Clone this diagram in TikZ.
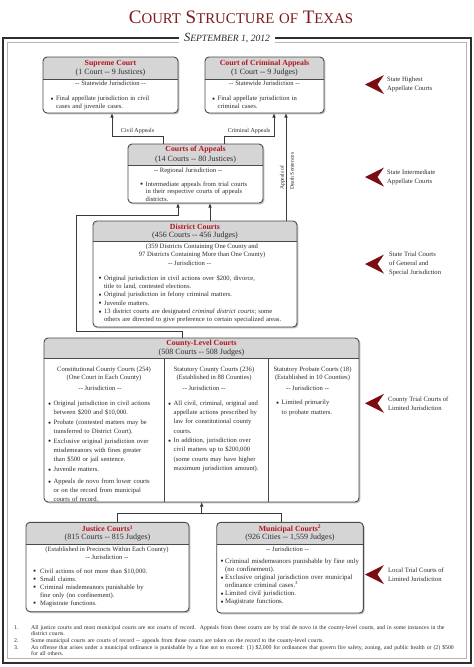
\documentclass[tikz,border=0pt]{standalone}
\usepackage{fontspec}
\setmainfont{Liberation Serif}
\usetikzlibrary{arrows.meta,calc}

\definecolor{maroon}{HTML}{7E1A1E}
\definecolor{boxred}{HTML}{B3141E}
\definecolor{chevc}{HTML}{7A0C12}
\definecolor{edgec}{HTML}{4A4A4A}
\definecolor{hdrc}{HTML}{D5D5D5}
\definecolor{txtc}{HTML}{2B2B2B}
\definecolor{shadowc}{HTML}{BDBDBD}
\definecolor{framec}{HTML}{2E2E2E}
\definecolor{framein}{HTML}{B5B5B5}
\definecolor{linec}{HTML}{3A3A3A}

\newlength\bulind \setlength\bulind{5.5pt}
\newcommand\fs[2]{\fontsize{#1}{#2}\selectfont}
\newcommand\isep[1]{\setlength\parskip{#1}}
\newcommand\bulsym{\raisebox{0.1ex}{\scalebox{0.75}{$\bullet$}}}
\newcommand\bitem[1]{\par\noindent\hangindent=\bulind\hangafter=1\makebox[\bulind][l]{\bulsym}#1\par}
\newcommand\fitem[2]{\par\noindent\hangindent=17pt\hangafter=1\makebox[17pt][l]{#1}#2\par}
\newcommand\tsc[1]{{\fs{14.8}{16}#1}}
\newcommand\dsc[1]{{\fs{9.6}{11}#1}}

\tikzset{
  conn/.style={draw=linec, line width=0.8pt},
  arr/.style={-{Latex[length=4.5pt,width=3.6pt]}},
  boxnode/.style={fill=white, rounded corners=4pt, inner sep=0pt, outer sep=0pt, anchor=north west},
  boxedge/.style={draw=edgec, line width=0.9pt},
  hdrtitle/.style={font=\fs{7.8}{9}\bfseries, text=boxred, inner sep=0pt},
  hdrsub/.style={font=\fs{8}{9}, text=txtc, inner sep=0pt},
  ctr/.style={font=\fs{6.6}{8}, text=txtc, inner sep=0pt, anchor=north, align=center},
  body/.style={inner sep=0pt, anchor=north west, text width=#1, align=left, text=txtc},
  side/.style={inner sep=0pt, anchor=north west, align=left, text=txtc, font=\fs{6.6}{9}},
  clabel/.style={inner sep=0pt, text=txtc, font=\fs{6}{6.5}},
}

% name, x, y, w, h, header height, title, subtitle
\newcommand\CourtBox[8]{%
  \fill[shadowc, rounded corners=4pt] (#2+1.4,#3+1.4) rectangle (#2+#4+1.4,#3+#5+1.4);
  \node[boxnode, minimum width=#4pt, minimum height=#5pt] (#1) at (#2,#3) {};
  \begin{scope}
    \clip[rounded corners=4pt] (#1.north west) rectangle (#1.south east);
    \fill[hdrc] (#1.north west) rectangle ($(#1.north east)+(0,#6)$);
  \end{scope}
  \draw[boxedge] ($(#1.north west)+(0,#6)$) -- ($(#1.north east)+(0,#6)$);
  \draw[boxedge, rounded corners=4pt] (#1.north west) rectangle (#1.south east);
  \node[hdrtitle] (#1-t) at ($(#1.north)+(0,#6/2-4.6)$) {#7};
  \node[hdrsub] (#1-s) at ($(#1.north)+(0,#6/2+4.6)$) {#8};
}

\newcommand\Chev[1]{\fill[chevc] (365,#1) -- (384,#1-9.5) -- (377.5,#1) -- (384,#1+9.5) -- cycle;}

\begin{document}
\begin{tikzpicture}[x=1pt,y=-1pt]
\useasboundingbox (0,0) rectangle (474,667);
\fill[white] (0,0) rectangle (474,667);

% frame
\draw[framein, line width=0.7pt] (7.5,42.5) rectangle (466.5,658.5);
\draw[framec, line width=1.6pt] (3,38) rectangle (471,663);

% titles
\node[inner sep=0pt, text=maroon, font=\fs{19}{20}] (title) at (241,17) {C\tsc{OURT} S\tsc{TRUCTURE} \tsc{OF} T\tsc{EXAS}};
\node[fill=white, inner xsep=5pt, inner ysep=2pt, text=txtc, font=\fs{12.5}{13}\itshape] (date) at (227,38) {S\dsc{EPTEMBER 1, 2012}};

% ---------- boxes ----------
\CourtBox{sc}{43}{57}{135}{56}{22}{Supreme Court}{(1 Court -{}- 9 Justices)}
\CourtBox{cca}{205}{57}{119}{56}{22}{Court of Criminal Appeals}{(1 Court -{}- 9 Judges)}
\CourtBox{coa}{128}{144}{135}{59}{21}{Courts of Appeals}{(14 Courts -{}- 80 Justices)}
\CourtBox{dc}{93}{221}{204}{106}{20}{District Courts}{(456 Courts -{}- 456 Judges)}
\CourtBox{clc}{44}{338}{315}{164}{20}{County-Level Courts}{(508 Courts -{}- 508 Judges)}
\CourtBox{jc}{26}{522.3}{163}{89.4}{22}{Justice Courts\textsuperscript{1}}{(815 Courts -{}- 815 Judges)}
\CourtBox{mc}{216.7}{522.3}{146.6}{90.7}{22}{Municipal Courts\textsuperscript{2}}{(926 Cities -{}- 1,559 Judges)}

% county-level column dividers
\coordinate (dv1) at (164,358);
\coordinate (dv2) at (268,358);
\draw[boxedge] (dv1) -- (dv1 |- clc.south);
\draw[boxedge] (dv2) -- (dv2 |- clc.south);

% ---------- box texts ----------
\node[ctr] (sc-j) at (110.5,81.2) {-{}- Statewide Jurisdiction -{}-};
\node[body=125pt, font=\fs{6.6}{8}] (sc-b) at (50.5,92.2) {\bitem{Final appellate jurisdiction in civil\newline cases and juvenile cases.}};

\node[ctr] (cca-j) at (264.5,81.2) {-{}- Statewide Jurisdiction -{}-};
\node[body=105pt, font=\fs{6.6}{8}] (cca-b) at (212,92.2) {\bitem{Final appellate jurisdiction in\newline criminal cases.}};

\node[ctr] (coa-j) at (188,168.2) {-{}- Regional Jurisdiction -{}-};
\node[body=120pt, font=\fs{6.6}{7.7}] (coa-b) at (140,178.2) {\bitem{Intermediate appeals from trial courts\newline in their respective courts of appeals\newline districts.}};

\node[ctr, font=\fs{6.6}{7.2}] (dc-n) at (202,244.2) {(359 Districts Containing One County and\\97 Districts Containing More than One County)};
\node[ctr] (dc-j) at (189.5,260.9) {-{}- Jurisdiction -{}-};
\node[body=195pt, font=\fs{6.6}{8}] (dc-b) at (98.3,271.2) {\isep{0.6pt}%
  \bitem{Original jurisdiction in civil actions over \$200, divorce,\newline title to land, contested elections.}
  \bitem{Original jurisdiction in felony criminal matters.}
  \bitem{Juvenile matters.}
  \bitem{13 district courts are designated \textit{criminal district courts}; some\newline others are directed to give preference to certain specialized areas.}};

% county-level columns
\node[ctr] (c1-h) at (104,366.5) {Constitutional County Courts (254)\\(One Court in Each County)};
\node[ctr] (c1-j) at (100,385.5) {-{}- Jurisdiction -{}-};
\node[body=113pt, font=\fs{6.6}{9.2}] (c1-b) at (48,395.5) {\isep{0.5pt}%
  \bitem{Original jurisdiction in civil actions\newline between \$200 and \$10,000.}
  \bitem{Probate (contested matters may be\newline transferred to District Court).}
  \bitem{Exclusive original jurisdiction over\newline misdemeanors with fines greater\newline than \$500 or jail sentence.}
  \bitem{Juvenile matters.}
  \vspace{2.5pt}
  \bitem{Appeals de novo from lower courts\newline or on the record from municipal\newline courts of record.}};

\node[ctr] (c2-h) at (214,366.5) {Statutory County Courts (236)\\(Established in 88 Counties)};
\node[ctr] (c2-j) at (204,385.5) {-{}- Jurisdiction -{}-};
\node[body=98pt, font=\fs{6.6}{9.2}] (c2-b) at (168,395.5) {\isep{0.5pt}%
  \bitem{All civil, criminal, original and\newline appellate actions prescribed by\newline law for constitutional county\newline courts.}
  \bitem{In addition, jurisdiction over\newline civil matters up to \$200,000\newline (some courts may have higher\newline maximum jurisdiction amount).}};

\node[ctr] (c3-h) at (312.5,366.5) {Statutory Probate Courts (18)\\(Established in 10 Counties)};
\node[ctr] (c3-j) at (307.5,385.5) {-{}- Jurisdiction -{}-};
\node[body=80pt, font=\fs{6.6}{9.2}] (c3-b) at (276,395.5) {\bitem{Limited primarily\newline to probate matters.}};

% justice
\node[ctr, font=\fs{6.6}{8}] (jc-n) at (107,546.5) {(Established in Precincts Within Each County)\\-{}- Jurisdiction -{}-};
\node[body=150pt, font=\fs{6.6}{8}] (jc-b) at (33,565) {\setlength\bulind{7pt}%
  \bitem{Civil actions of not more than \$10,000.}
  \bitem{Small claims.}
  \bitem{Criminal misdemeanors punishable by\newline fine only (no confinement).}
  \bitem{Magistrate functions.}};

% municipal
\node[ctr] (mc-j) at (287.5,547.2) {-{}- Jurisdiction -{}-};
\node[body=143pt, font=\fs{6.8}{8.1}] (mc-b) at (220.5,555) {\setlength\bulind{4.5pt}%
  \bitem{Criminal misdemeanors punishable by fine only\newline (no confinement).}
  \bitem{Exclusive original jurisdiction over municipal\newline ordinance criminal cases.\textsuperscript{3}}
  \bitem{Limited civil jurisdiction.}
  \bitem{Magistrate functions.}};

% ---------- connectors ----------
\coordinate (civ) at (112,136);
\draw[conn, arr] ($(coa.north west)+(35,0)$) |- (civ) -- (civ |- sc.south);
\node[clabel] (civ-l) at (137.5,131.5) {Civil Appeals};

\coordinate (crim) at (274,136);
\draw[conn, arr] ($(coa.north west)+(96,0)$) |- (crim) -- (crim |- cca.south);
\node[clabel] (crim-l) at (249,131.5) {Criminal Appeals};

\coordinate (dth) at (286,150);
\draw[conn, arr] (dth |- dc.north) -- (dth |- cca.south);
\node[clabel, rotate=90, anchor=west, align=left, font=\fs{5.6}{10}] (dth-l) at (287,190) {Appeals of\\Death Sentences};

\coordinate (dcu) at (210,210);
\draw[conn, arr] (dcu |- dc.north) -- (dcu |- coa.south);

\coordinate (k1) at (76,331);
\coordinate (k2) at (178,215);
\draw[conn, arr] ($(clc.north west)+(138,0)$) |- (k1) |- (k2) -- (k2 |- coa.south);

\coordinate (jl) at (117.3,513.3);
\coordinate (mr) at (281.7,513.3);
\coordinate (jm) at (201.7,513.3);
\draw[conn] (jl |- jc.north) -- (jl) -- (mr) -- (mr |- mc.north);
\draw[conn, arr] (jm) -- (jm |- clc.south);

% ---------- side labels ----------
\Chev{84.5}
\node[side] (s1) at (387,77.2) {State Highest\\Appellate Courts};
\Chev{177}
\node[side] (s2) at (387,170.2) {State Intermediate\\Appellate Courts};
\Chev{264}
\node[side] (s3) at (389,251.5) {State Trial Courts\\of General and\\Special Jurisdiction};
\Chev{403.3}
\node[side] (s4) at (388,396.5) {County Trial Courts of\\Limited Jurisdiction};
\Chev{574.5}
\node[side] (s5) at (388,567.2) {Local Trial Courts of\\Limited Jurisdiction};

% ---------- footnotes ----------
\node[body=452pt, font=\fs{5.8}{6}] (notes) at (14,622.5) {\isep{1pt}%
  \fitem{1.}{All justice courts and most municipal courts are not courts of record.\ \ Appeals from these courts are by trial de novo in the county-level courts, and in some instances in the\newline district courts.}
  \fitem{2.}{Some municipal courts are courts of record -{}- appeals from those courts are taken on the record to the county-level courts.}
  \fitem{3.}{An offense that arises under a municipal ordinance is punishable by a fine not to exceed: (1) \$2,000 for ordinances that govern fire safety, zoning, and public health or (2) \$500\newline for all others.}};

\end{tikzpicture}
\end{document}
